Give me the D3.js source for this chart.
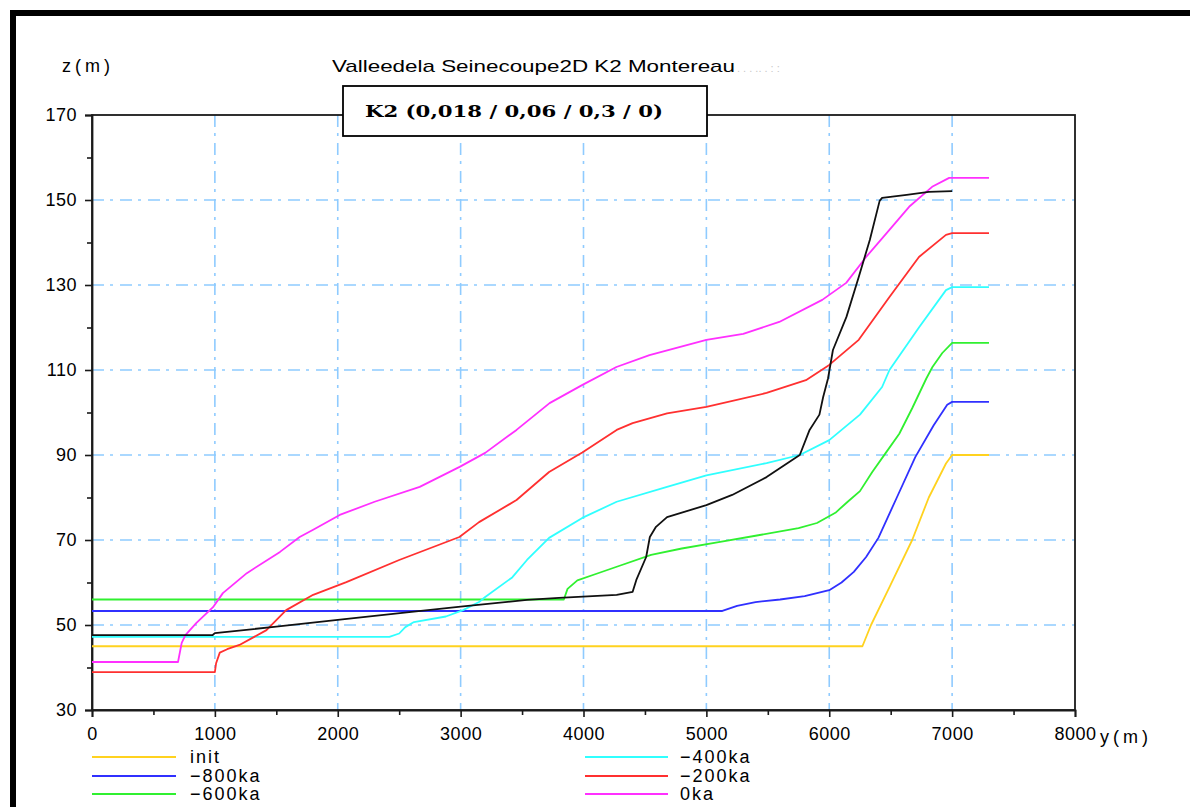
<!DOCTYPE html>
<html>
<head>
<meta charset="utf-8">
<script src="https://cdn.jsdelivr.net/npm/d3@7"></script>
<style>
html,body{margin:0;padding:0;background:#fff;}
svg{display:block;}
text{font-family:"Liberation Sans",Arial,sans-serif;fill:#000;}
</style>
</head>
<body>
<svg id="chart" width="1190" height="807"></svg>
<script>
// ---------- data ----------
const title = "Valleedela Seinecoupe2D K2 Montereau";
const boxLabel = "K2 (0,018 / 0,06 / 0,3 / 0)";
const xTicks = [0,1000,2000,3000,4000,5000,6000,7000,8000];
const yTicks = [30,50,70,90,110,130,150,170];
const seriesNames = ["init","\u2212800ka","\u2212600ka","\u2212400ka","\u2212200ka","0ka"];
const seriesColors = ["#ffd21f","#3030ff","#30f030","#30ffff","#ff3030","#ff30ff"];

const initX = [0,6270,6340,6500,6675,6810,6950,7000,7300];
const initZ = [45,45,50,59.5,70,80,88,90,90];

const ka800X = [0,5130,5250,5400,5600,5800,6000,6100,6200,6300,6400,6550,6700,6850,6960,7000,7300];
const ka800Z = [53.3,53.3,54.5,55.4,56,56.8,58.2,60,62.5,66,70.5,80,89.5,97,101.8,102.5,102.5];

const ka600X = [0,3840,3870,3950,4100,4300,4550,4800,5100,5400,5750,5900,6050,6150,6250,6350,6460,6570,6675,6790,6840,6920,7000,7300];
const ka600Z = [56,56,58.5,60.5,62,64,66.5,68,69.5,71,72.8,74,76.4,79,81.5,86,90.5,95,101,108,110.7,114,116.4,116.4];

const ka400X = [0,2420,2500,2550,2620,2880,3020,3150,3200,3420,3540,3720,3990,4270,4680,5000,5490,5760,6000,6250,6430,6490,6730,6950,7000,7300];
const ka400Z = [47.2,47.2,48,49.5,50.7,52,53.5,55.4,56.6,61.2,65.3,70.5,75.2,79,82.5,85.2,88.1,90,93.5,99.5,106,110,120,128.8,129.5,129.5];

const ka200X = [0,1000,1010,1040,1100,1200,1420,1580,1800,2070,2500,2990,3150,3455,3720,3990,4270,4400,4680,5000,5490,5810,6000,6240,6490,6730,6950,7000,7300];
const ka200Z = [38.9,38.9,41,43.5,44.3,45.3,48.8,53.5,57.1,60.1,65.3,70.7,74.2,79.4,86,90.6,95.9,97.5,99.8,101.3,104.6,107.6,111.2,117.1,127.2,136.6,141.8,142.2,142.2];

const ka0X = [0,700,730,760,850,985,1065,1260,1530,1690,1800,2016,2300,2667,2992,3200,3455,3724,3992,4268,4537,5000,5300,5593,5943,6138,6300,6488,6650,6837,6976,7300];
const ka0Z = [41.3,41.3,45.8,47.6,50.5,54.2,57.5,62.2,67.2,70.7,72.4,75.9,79,82.5,87.2,90.5,95.9,102.2,106.5,110.7,113.5,117.1,118.5,121.3,126.5,130.5,136.6,142.9,148.4,153.1,155.2,155.2];

const blackX = [0,980,1000,1500,2000,2600,3000,3540,3800,4270,4400,4430,4510,4540,4590,4680,5000,5210,5490,5760,5840,5920,5950,5990,6030,6140,6240,6330,6410,6430,6630,6810,7000];
const blackZ = [47.6,47.6,48.1,49.6,51.2,53.1,54.3,55.9,56.4,57.1,57.8,60.6,66,70.7,73.1,75.4,78.2,80.6,84.8,90,95.9,99.5,103.6,108,114.7,122.5,131.9,140.6,149.8,150.5,151.2,151.9,152.1];

// ---------- drawing ----------
const svg = d3.select("#chart");
const x = d3.scaleLinear().domain([0,8000]).range([92,1075]);
const y = d3.scaleLinear().domain([30,170]).range([710,115]);

// outer frame (top and left only visible)
svg.append("line").attr("x1",13).attr("x2",1190).attr("y1",13).attr("y2",13)
  .attr("stroke","#000").attr("stroke-width",6);
svg.append("line").attr("x1",13).attr("x2",13).attr("y1",10).attr("y2",807)
  .attr("stroke","#000").attr("stroke-width",6);

// grid
const gridColor = "#8fcbff";
const dash = "12,6,3,7";
const g = svg.append("g");
xTicks.filter(v => v>0 && v<8000).forEach(v => {
  g.append("line").attr("x1",x(v)).attr("x2",x(v)).attr("y1",y(170)).attr("y2",y(30))
    .attr("stroke",gridColor).attr("stroke-width",1.6).attr("stroke-dasharray",dash);
});
yTicks.filter(v => v>30 && v<170).forEach(v => {
  g.append("line").attr("x1",x(0)).attr("x2",x(8000)).attr("y1",y(v)).attr("y2",y(v))
    .attr("stroke",gridColor).attr("stroke-width",1.6).attr("stroke-dasharray",dash);
});

// plot box
svg.append("rect").attr("x",x(0)).attr("y",y(170)).attr("width",x(8000)-x(0)).attr("height",y(30)-y(170))
  .attr("fill","none").attr("stroke","#1a1a1a").attr("stroke-width",1.8);

const tickFont = s => s.style("font-size","18px").style("font-family","Liberation Sans, Arial, sans-serif")
  .style("letter-spacing","0.5px").attr("fill","#000");

// axes via d3
const xAxis = d3.axisBottom(x).tickValues(xTicks).tickSize(7).tickPadding(10).tickFormat(d3.format("d"));
const gx = svg.append("g").attr("transform",`translate(0,${y(30)})`).call(xAxis);
gx.select(".domain").attr("stroke","#1a1a1a").attr("stroke-width",1.8);
gx.selectAll(".tick line").attr("stroke","#1a1a1a").attr("stroke-width",1.6);
gx.selectAll("text").call(tickFont);
const xMinor = d3.range(500,8000,1000);
svg.append("g").attr("transform",`translate(0,${y(30)})`)
  .call(d3.axisBottom(x).tickValues(xMinor).tickSize(5).tickFormat(""))
  .call(s => { s.select(".domain").remove(); s.selectAll("line").attr("stroke","#1a1a1a").attr("stroke-width",1.6); });

const yAxis = d3.axisLeft(y).tickValues(yTicks).tickSize(7).tickPadding(8);
const gy = svg.append("g").attr("transform",`translate(${x(0)},0)`).call(yAxis);
gy.select(".domain").attr("stroke","#1a1a1a").attr("stroke-width",1.8);
gy.selectAll(".tick line").attr("stroke","#1a1a1a").attr("stroke-width",1.6);
gy.selectAll("text").call(tickFont);
const yMinor = d3.range(40,170,20);
svg.append("g").attr("transform",`translate(${x(0)},0)`)
  .call(d3.axisLeft(y).tickValues(yMinor).tickSize(5).tickFormat(""))
  .call(s => { s.select(".domain").remove(); s.selectAll("line").attr("stroke","#1a1a1a").attr("stroke-width",1.6); });

// lines
const lineGen = d3.line().x(d => x(d[0])).y(d => y(d[1]));
const seriesData = [
  d3.zip(initX, initZ), d3.zip(ka800X, ka800Z), d3.zip(ka600X, ka600Z),
  d3.zip(ka400X, ka400Z), d3.zip(ka200X, ka200Z), d3.zip(ka0X, ka0Z)
];
seriesData.forEach((d,i) => {
  svg.append("path").datum(d).attr("d",lineGen).attr("fill","none")
    .attr("stroke",seriesColors[i]).attr("stroke-width",1.8).attr("stroke-linejoin","round");
});
svg.append("path").datum(d3.zip(blackX, blackZ)).attr("d",lineGen).attr("fill","none")
  .attr("stroke","#111").attr("stroke-width",1.8).attr("stroke-linejoin","round");

// axis titles
svg.append("text").attr("x",62).attr("y",72).style("font-size","18px")
  .attr("textLength",48).attr("lengthAdjust","spacing").text("z(m)");
svg.append("text").attr("x",1100).attr("y",743).style("font-size","18px")
  .attr("textLength",48).attr("lengthAdjust","spacing").text("y(m)");

// title
svg.append("text").attr("x",332).attr("y",72).style("font-size","17px")
  .attr("textLength",403).attr("lengthAdjust","spacingAndGlyphs").text(title);
svg.append("text").attr("x",737).attr("y",72).style("font-size","11px").style("fill","#c8c8c8")
  .text(". . .  .. . : :");

// K2 box
svg.append("rect").attr("x",343).attr("y",86).attr("width",364).attr("height",50)
  .attr("fill","#fff").attr("stroke","#000").attr("stroke-width",1.8);
svg.append("text").attr("x",365).attr("y",117)
  .style("font-family","DejaVu Serif, serif").style("font-weight","bold").style("font-size","17px")
  .attr("textLength",298).attr("lengthAdjust","spacingAndGlyphs")
  .text(boxLabel);

// legend
const legCols = [[92,176,190],[585,668,680]];
const legRows = [757,776,794];
seriesNames.forEach((n,i) => {
  const c = legCols[Math.floor(i/3)], r = legRows[i%3];
  svg.append("line").attr("x1",c[0]).attr("x2",c[1]).attr("y1",r).attr("y2",r)
    .attr("stroke",seriesColors[i]).attr("stroke-width",2);
  svg.append("text").attr("x",c[2]).attr("y",r+6).style("font-size","18px")
    .style("letter-spacing","2px").text(n);
});
</script>
</body>
</html>
